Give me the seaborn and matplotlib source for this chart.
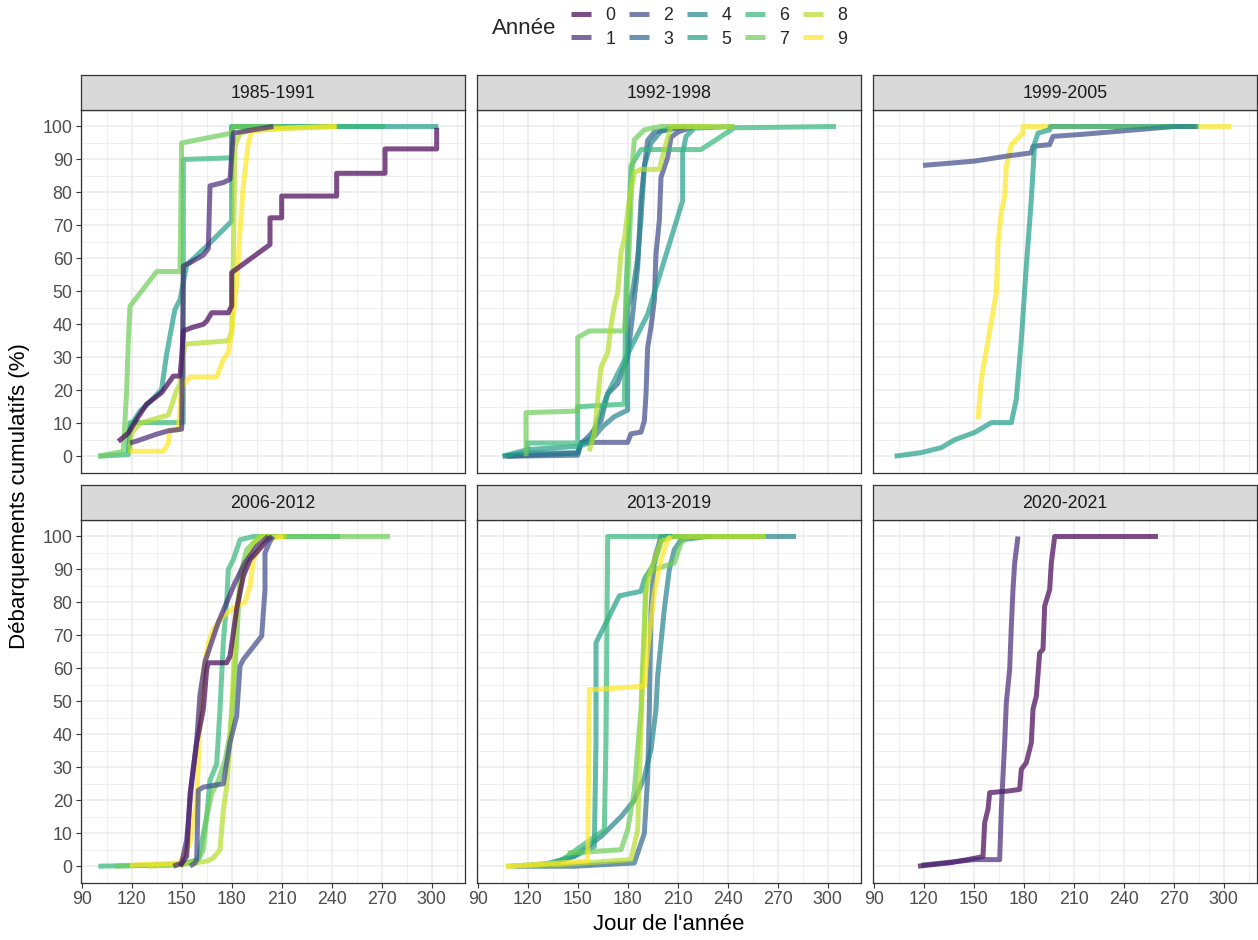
import matplotlib
matplotlib.use("Agg")
import matplotlib.pyplot as plt
import seaborn as sns
import pandas as pd
from matplotlib.lines import Line2D

# ---------------- data ----------------
PANELS = ["1985-1991", "1992-1998", "1999-2005", "2006-2012", "2013-2019", "2020-2021"]
DIGITS = ["0", "1", "2", "3", "4", "5", "6", "7", "8", "9"]
COLORS = ["#440154", "#482878", "#3E4A89", "#31688E", "#26828E",
          "#1F9E89", "#35B779", "#6DCD59", "#B4DE2C", "#FDE725"]
X_TICKS = [90, 120, 150, 180, 210, 240, 270, 300]
Y_TICKS = [0, 10, 20, 30, 40, 50, 60, 70, 80, 90, 100]

# 1985-1991
Y1985_DAY = [118, 119, 125, 132, 138, 139, 141, 143, 145, 146, 149, 153, 165, 180, 180, 304]
Y1985_PCT = [1, 9, 13.7, 17, 20.3, 24, 31, 36.5, 42, 44.5, 47.5, 58, 63.7, 71.3, 100, 100]
Y1986_DAY = [100, 118, 119, 151, 151, 180, 180, 272]
Y1986_PCT = [0, 0.5, 10.2, 10.2, 90, 90.5, 100, 100]
Y1987_DAY = [100, 115, 117, 118, 119, 135, 149, 150, 180, 181, 210]
Y1987_PCT = [0, 1.5, 20, 35, 45.5, 56, 56, 95, 98, 100, 100]
Y1988_DAY = [119, 119, 120, 125, 135, 142, 147, 149, 152, 178, 180, 181, 182, 185, 193, 243]
Y1988_PCT = [1, 3, 7, 10, 11.5, 12.5, 20, 22, 34, 35, 38, 60, 94, 98, 99, 100]
Y1989_DAY = [119, 139, 142, 143, 148, 150, 155, 171, 175, 178, 180, 183, 185, 187, 190, 192, 213, 243]
Y1989_PCT = [1.5, 1.5, 4, 8, 8, 21, 24, 24, 29.4, 31.4, 37.5, 52.6, 68, 82, 95, 98.6, 99.6, 100]
Y1990_DAY = [112, 118, 123, 129, 138, 145, 149, 150, 151, 156, 163, 165, 168, 178, 180, 180,
             203, 203, 210, 210, 243, 243, 272, 272, 303, 303]
Y1990_PCT = [4.5, 7, 11.2, 15.8, 19.3, 24.3, 24.3, 30, 38, 39, 40, 41, 43.5, 43.5, 45.6, 55.7,
             64.2, 72.3, 72.3, 78.9, 78.9, 85.8, 85.8, 93.2, 93.2, 99.6]
Y1991_DAY = [119, 123, 135, 142, 150, 151, 155, 163, 166, 167, 175, 179, 181, 193, 205]
Y1991_PCT = [4, 4.6, 6.7, 7.7, 8.2, 57.7, 58.7, 61, 63, 82, 83, 84, 98, 99, 100]

# 1992-1998
Y1992_DAY = [107, 130, 150, 152, 180, 182, 188, 190, 191, 192, 194, 196, 197, 199, 200, 204, 206, 210, 220]
Y1992_PCT = [0, 0.5, 1, 4.2, 4.2, 6.8, 7.3, 10.7, 18.8, 33, 39.2, 47.3, 61.4, 71.5, 84.6, 90.6, 96.7, 98.3, 100]
Y1993_DAY = [108, 150, 152, 158, 164, 168, 174, 180, 183, 186, 188, 190, 192, 196, 208, 215]
Y1993_PCT = [0, 0.3, 3.7, 6.8, 10.8, 18.9, 22, 30, 43, 57.4, 77.6, 87.7, 95.8, 98.3, 99.3, 100]
Y1994_DAY = [105, 120, 150, 152, 160, 165, 172, 180, 180, 183, 186, 188, 190, 194, 200, 210]
Y1994_PCT = [0, 1, 1, 4, 6, 9, 12, 14, 45, 50, 60, 72, 88, 95, 98.6, 100]
Y1995_DAY = [105, 120, 150, 157, 168, 192, 213, 213, 215, 220, 244]
Y1995_PCT = [0, 2, 3, 4, 19, 43, 77.5, 92, 97, 99.5, 100]
Y1996_DAY = [120, 120, 150, 150, 178, 179, 182, 188, 224, 244, 305]
Y1996_PCT = [1, 4, 4, 15, 15.8, 50, 88, 93, 93, 99.6, 100]
Y1997_DAY = [119, 119, 150, 150, 157, 178, 180, 183, 184, 190, 200, 230]
Y1997_PCT = [0, 13.2, 13.7, 36, 38, 38, 51.6, 90, 96, 99, 100, 100]
Y1998_DAY = [157, 160, 164, 168, 170, 172, 174, 176, 178, 181, 184, 188, 199, 202, 206, 244]
Y1998_PCT = [1.5, 7, 27, 31.4, 39.5, 45.6, 49.6, 61.7, 65.8, 78, 86, 87, 87, 93, 100, 100]

# 1999-2005
Y1999_DAY = [152.6, 154.6, 163.6, 164.6, 166.6, 168.6, 169.6, 172.6, 179.6, 179.6, 304.6]
Y1999_PCT = [11.2, 23.3, 49.6, 64.7, 73.8, 78.9, 88, 94.5, 98, 100, 100]
Y2002_DAY = [119.6, 150.6, 169.6, 184.6, 185.6, 195.6, 197.6, 214.6, 270.6, 283.6]
Y2002_PCT = [88.2, 89.5, 91, 92, 94, 94.5, 97, 97.6, 100, 100]
Y2005_DAY = [102.6, 118.6, 130.6, 138.6, 150.6, 160.6, 172.6, 175.6, 178.6, 181.6, 184.6,
             186.6, 188.6, 195.6, 196, 285]
Y2005_PCT = [0, 1.1, 2.6, 5, 7.2, 10.2, 10.2, 17.3, 35.5, 57.7, 78, 95, 98, 99, 100, 100]

# 2006-2012
Y2006_DAY = [100, 150, 160, 165, 167, 171, 173, 175, 177, 178, 181, 185, 193, 245]
Y2006_PCT = [0, 0.5, 2, 15, 26, 31, 47.6, 68, 80, 90, 93, 99, 100, 100]
Y2007_DAY = [110, 150, 160, 163, 165, 168, 172, 176, 179, 181, 183, 185, 189, 197, 275]
Y2007_PCT = [0, 0.5, 2, 5, 15, 22, 26, 32, 40, 52, 68, 88, 96, 100, 100]
Y2008_DAY = [130, 149, 165, 169, 173, 175, 177, 179, 181, 183, 187, 193, 197, 213]
Y2008_PCT = [0, 0.5, 1.5, 2.5, 5, 17, 24, 37.5, 57.7, 78, 90, 98, 100, 100]
Y2009_DAY = [119, 149, 155, 159, 161, 164, 166, 169, 175, 183, 188, 191, 193, 199, 211]
Y2009_PCT = [0.3, 1, 7, 20, 43.5, 61.7, 67.8, 71.8, 75.9, 78.9, 80, 85, 93, 99, 100]
Y2010_DAY = [149, 153, 155, 159, 163, 165, 166, 177, 179, 183, 187, 191, 201, 204]
Y2010_PCT = [0, 3, 22, 37.5, 47.6, 59.7, 61.7, 61.7, 63.7, 78, 88, 93, 98.6, 100]
Y2011_DAY = [145, 150, 153, 156, 159, 161, 164, 168, 172, 177, 182, 188, 195, 202]
Y2011_PCT = [0, 1, 8, 25, 38, 52, 62, 68, 74, 80, 86, 92, 97, 100]
Y2012_DAY = [155, 158, 159, 160, 163, 175, 179, 183, 185, 187, 198, 200, 200, 203, 205]
Y2012_PCT = [0, 1, 2, 23, 24, 25, 37.5, 45.6, 60.7, 62.7, 69.8, 84, 95, 98.6, 100]

# 2013-2019
Y2013_DAY = [113, 148, 184, 190, 192, 193, 194, 196, 200, 230]
Y2013_PCT = [0, 0, 1, 10, 27, 47.6, 78, 93, 100, 100]
Y2014_DAY = [130, 148, 164, 176, 184, 190, 194, 197, 198, 202, 205, 208, 212, 228, 281]
Y2014_PCT = [0, 3, 9, 15, 20, 27, 35.5, 47.6, 57.7, 78, 90, 96, 99, 100, 100]
Y2015_DAY = [128, 148, 160, 161, 161, 166, 175, 188, 190, 196, 200, 204, 230]
Y2015_PCT = [0.3, 3, 6, 37.5, 67.8, 72.8, 82, 83.4, 87, 92, 98.6, 100, 100]
Y2016_DAY = [110, 138, 166, 167, 168, 212]
Y2016_PCT = [0, 1, 11, 37.5, 100, 100]
Y2017_DAY = [144, 176, 180, 184, 188, 190, 191, 196, 208, 212, 216, 263]
Y2017_PCT = [4, 5, 11, 23, 47.6, 73, 88, 90, 92, 98, 100, 100]
Y2018_DAY = [107, 140, 182, 186, 187, 189, 191, 194, 200, 208, 263]
Y2018_PCT = [0, 0.5, 2, 11, 27, 57.7, 83, 90, 98.6, 100, 100]
Y2019_DAY = [107, 128, 156, 157, 162, 190, 192, 196, 200, 204, 206]
Y2019_PCT = [0, 0.6, 1.6, 53.6, 53.6, 54.6, 65.8, 83, 93, 99, 100]

# 2020-2021
Y2020_DAY = [116.6, 136.6, 152.6, 155.6, 156.6, 158.6, 159.6, 170.6, 177.6, 178.6, 181.6,
             184.6, 185.6, 187.6, 189.6, 191.6, 192.6, 195.6, 196.6, 198.6, 260.6]
Y2020_PCT = [0, 1.1, 2.6, 3, 13.2, 17.3, 22.3, 22.8, 23.3, 29.4, 31.4, 37.5, 47.6, 51.6,
             64.7, 65.8, 78.9, 83.9, 92, 100, 100]
Y2021_DAY = [118.6, 150.6, 165.6, 166.6, 168.6, 169.6, 171.6, 172.6, 173.6, 174.6, 176.6]
Y2021_PCT = [0.3, 2, 2, 17.3, 37.5, 49.6, 59.7, 72.8, 84, 92, 100]

SERIES = [
    (0, 1985, Y1985_DAY, Y1985_PCT), (0, 1986, Y1986_DAY, Y1986_PCT),
    (0, 1987, Y1987_DAY, Y1987_PCT), (0, 1988, Y1988_DAY, Y1988_PCT),
    (0, 1989, Y1989_DAY, Y1989_PCT), (0, 1990, Y1990_DAY, Y1990_PCT),
    (0, 1991, Y1991_DAY, Y1991_PCT),
    (1, 1992, Y1992_DAY, Y1992_PCT), (1, 1993, Y1993_DAY, Y1993_PCT),
    (1, 1994, Y1994_DAY, Y1994_PCT), (1, 1995, Y1995_DAY, Y1995_PCT),
    (1, 1996, Y1996_DAY, Y1996_PCT), (1, 1997, Y1997_DAY, Y1997_PCT),
    (1, 1998, Y1998_DAY, Y1998_PCT),
    (2, 1999, Y1999_DAY, Y1999_PCT), (2, 2002, Y2002_DAY, Y2002_PCT),
    (2, 2005, Y2005_DAY, Y2005_PCT),
    (3, 2006, Y2006_DAY, Y2006_PCT), (3, 2007, Y2007_DAY, Y2007_PCT),
    (3, 2008, Y2008_DAY, Y2008_PCT), (3, 2009, Y2009_DAY, Y2009_PCT),
    (3, 2010, Y2010_DAY, Y2010_PCT), (3, 2011, Y2011_DAY, Y2011_PCT),
    (3, 2012, Y2012_DAY, Y2012_PCT),
    (4, 2013, Y2013_DAY, Y2013_PCT), (4, 2014, Y2014_DAY, Y2014_PCT),
    (4, 2015, Y2015_DAY, Y2015_PCT), (4, 2016, Y2016_DAY, Y2016_PCT),
    (4, 2017, Y2017_DAY, Y2017_PCT), (4, 2018, Y2018_DAY, Y2018_PCT),
    (4, 2019, Y2019_DAY, Y2019_PCT),
    (5, 2020, Y2020_DAY, Y2020_PCT), (5, 2021, Y2021_DAY, Y2021_PCT),
]

rows = []
for pidx, year, days, pcts in SERIES:
    for k, (d, p) in enumerate(zip(days, pcts)):
        rows.append({"period": PANELS[pidx], "year": year, "digit": str(year % 10),
                     "order": k, "day": d, "pct": p})
df = pd.DataFrame(rows)
palette = dict(zip(DIGITS, COLORS))

# ---------------- figure ----------------
sns.set_theme(style="white")
plt.rcParams["font.family"] = ["Liberation Sans", "DejaVu Sans"]

W, H = 1258, 940
fig = plt.figure(figsize=(W / 100, H / 100), dpi=100)
col_left = [81, 477, 873]
pw = 384
row_top = [110, 520]
ph = 362.7
strip_h = 35
GRID = "#EBEBEB"
BORDER = "#333333"

for i, period in enumerate(PANELS):
    r, c = divmod(i, 3)
    x0, y0 = col_left[c], row_top[r]
    ax = fig.add_axes([x0 / W, 1 - (y0 + ph) / H, pw / W, ph / H])
    sax = fig.add_axes([x0 / W, 1 - y0 / H, pw / W, strip_h / H])

    sub = df[df["period"] == period]
    for year in sorted(sub["year"].unique()):
        s = sub[sub["year"] == year].sort_values("order")
        sns.lineplot(data=s, x="day", y="pct", sort=False, estimator=None,
                     color=palette[str(year % 10)], alpha=0.7, linewidth=3.6,
                     solid_capstyle="butt", solid_joinstyle="round", ax=ax, legend=False)

    ax.set_xlim(89.6, 320)
    ax.set_ylim(-5, 105)
    ax.set_xticks(X_TICKS)
    ax.set_yticks(Y_TICKS)
    ax.set_xticks(list(range(105, 320, 30)), minor=True)
    ax.set_yticks(list(range(5, 100, 10)), minor=True)
    ax.grid(which="major", color=GRID, linewidth=1.1)
    ax.grid(which="minor", color=GRID, linewidth=0.55)
    ax.set_axisbelow(True)
    ax.set_xlabel("")
    ax.set_ylabel("")
    for sp in ax.spines.values():
        sp.set_color(BORDER)
        sp.set_linewidth(0.9)
    ax.tick_params(which="minor", length=0)
    ax.tick_params(which="major", length=3.6, width=0.8, color=BORDER,
                   labelcolor="#4D4D4D", labelsize=12.8, pad=2.5,
                   bottom=(r == 1), left=(c == 0),
                   labelbottom=(r == 1), labelleft=(c == 0))

    sax.set_facecolor("#D9D9D9")
    sax.set_xticks([])
    sax.set_yticks([])
    for sp in sax.spines.values():
        sp.set_color(BORDER)
        sp.set_linewidth(0.9)
    sax.text(0.5, 0.47, period, ha="center", va="center", fontsize=12.8,
             color="#1A1A1A", transform=sax.transAxes)

# axis titles
fig.text(669 / W, 1 - 925 / H, "Jour de l'année", ha="center", va="center",
         fontsize=16, color="black")
fig.text(20 / W, 1 - 496 / H, "Débarquements cumulatifs (%)", ha="center",
         va="center", rotation=90, fontsize=16, color="black")

# legend
handles = [Line2D([], [], color=palette[d], alpha=0.7, linewidth=3.6,
                  solid_capstyle="butt") for d in DIGITS]
fig.legend(handles, DIGITS, loc="center", bbox_to_anchor=(709 / W, 1 - 27.5 / H),
           ncol=5, frameon=False, fontsize=12.8, handlelength=1.15,
           handletextpad=0.8, columnspacing=0.75, labelspacing=0.35)
fig.text(523.7 / W, 1 - 28 / H, "Année", ha="center", va="center", fontsize=16)

fig.savefig("out.png", dpi=100)
